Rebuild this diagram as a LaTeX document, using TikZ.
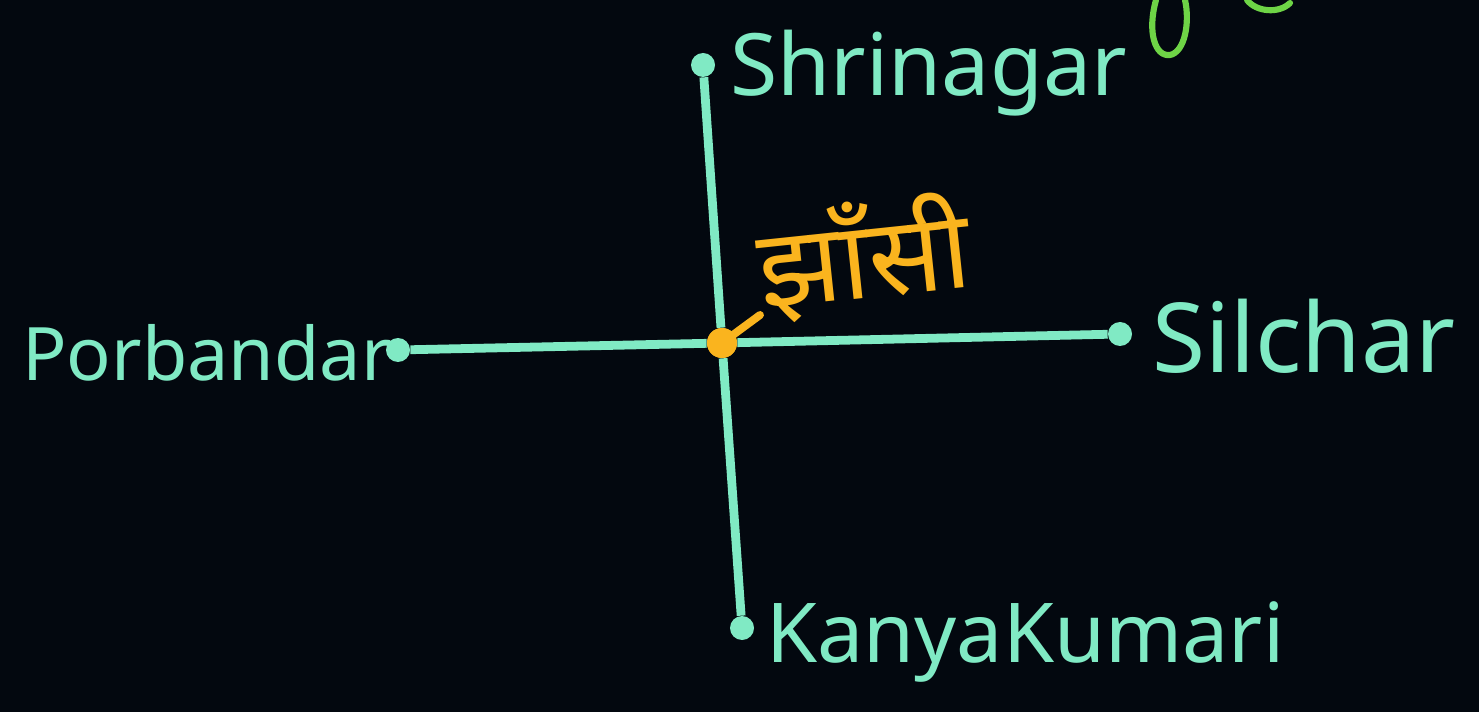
\documentclass[tikz,border=0pt]{standalone}
\usepackage{fontspec}
\setmainfont{Noto Sans}
\newfontfamily\devfont[Script=Devanagari]{Noto Sans}
\usetikzlibrary{positioning}
\definecolor{board}{RGB}{3,8,15}
\definecolor{mint}{RGB}{128,234,196}
\definecolor{marker}{RGB}{250,180,30}
\definecolor{chalkgreen}{RGB}{110,212,70}

\begin{document}
\begin{tikzpicture}[x=0.02cm,y=-0.02cm,line join=round,
  route/.style={mint,line width=5pt},
  citydot/.style={circle,fill=mint,inner sep=0pt,minimum size=0.48cm},
  hubdot/.style={circle,fill=marker,inner sep=0pt,minimum size=0.6cm},
  citylabel/.style={mint,inner sep=0pt,anchor=base west}]

%% ---------------- board ----------------
\fill[board] (0,0) rectangle (1479,712);
\useasboundingbox (0,0) rectangle (1479,712);

%% ---------------- the four end points and the centre ----------------
\node[citydot] (shri) at (703,65) {};
\node[citydot] (kanya) at (742,628) {};
\node[citydot] (porb) at (398,350) {};
\node[citydot] (silc) at (1120,334) {};
\node[hubdot] (jhan) at (722,343) {};

%% routes through the centre
\draw[route] (shri) -- (jhan) -- (kanya);
\draw[route] (porb) -- (jhan) -- (silc);

%% city names
\node[citylabel,font=\fontsize{49}{56}\selectfont] (shrilab) at (730,96) {Shrinagar};
\node[citylabel,font=\fontsize{47}{56}\selectfont] (kanyalab) at (766,662) {KanyaKumari};
\node[citylabel,font=\fontsize{42}{50}\selectfont] (porblab) at (22,380) {Porbandar};
\node[citylabel,font=\fontsize{55}{62}\selectfont] (silclab) at (1152,373) {Silchar};

%% the centre, marked in orange
\coordinate (tick) at (760,315);
\draw[marker,line width=4.5pt,line cap=round] (jhan.center) -- (tick);
\node[hubdot] at (jhan) {};
\node[marker,inner sep=0pt,rotate=6,font=\devfont\fontsize{62}{70}\selectfont]
  (jhanlab) at (864,258) {झाँसी};

%% cut-off writing at the top edge
\draw[chalkgreen,line width=3.5pt,line cap=round]
  (1156,0) .. controls (1147,32) and (1155,57) .. (1170,55)
  .. controls (1185,52) and (1190,22) .. (1185,0);
\draw[chalkgreen,line width=3.5pt,line cap=round]
  (1247,0) .. controls (1256,12) and (1279,14) .. (1290,3);

\end{tikzpicture}
\end{document}
